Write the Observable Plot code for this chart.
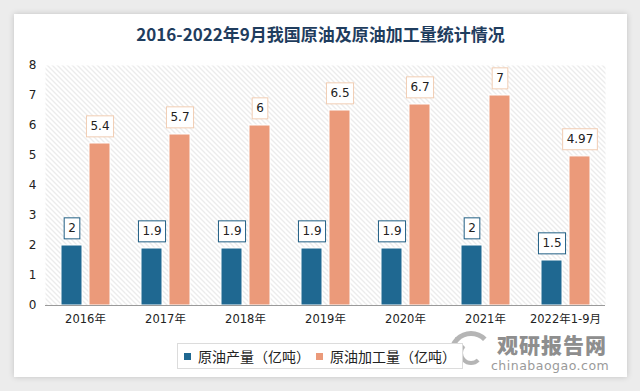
<!DOCTYPE html>
<html><head><meta charset="utf-8">
<script src="https://cdn.jsdelivr.net/npm/d3@7"></script>
<script src="https://cdn.jsdelivr.net/npm/@observablehq/plot@0.6"></script>
<style>
body{margin:0;width:640px;height:391px;background:#ececec;position:relative;overflow:hidden;font-family:"DejaVu Sans","Noto Sans CJK SC",sans-serif;}
#card{position:absolute;left:14px;top:14px;width:613px;height:363px;background:#fff;box-shadow:0 0 6px rgba(0,0,0,0.18);}
#title{position:absolute;left:14px;width:613px;top:21px;text-align:center;font-family:"Noto Sans CJK SC";font-size:17px;font-weight:600;color:#1f3d5e;white-space:nowrap;}
#chart{position:absolute;left:0;top:0;z-index:2;}
#legend{position:absolute;left:177px;top:343px;width:284px;height:24px;border:1px solid #dcdcdc;background:#fff;z-index:3;font-family:"Noto Sans CJK SC";font-size:14px;color:#222;display:flex;align-items:center;white-space:nowrap;}
#legend .sw{display:inline-block;width:7px;height:7px;margin:0 7px 0 6px;}
#wm1{position:absolute;left:497px;top:334px;line-height:1;font-family:"Noto Sans CJK SC";font-weight:900;font-size:21px;color:#8e8e8e;z-index:1;letter-spacing:1px;}
#wm2{position:absolute;left:491px;top:360px;line-height:1;font-family:"DejaVu Sans";font-size:12.5px;color:#9a9a9a;z-index:1;letter-spacing:0.5px;}
.arc{position:absolute;border-radius:50%;border:5px solid transparent;z-index:1;}
</style>
</head><body>
<div id="card"></div>
<div id="title">2016-2022年9月我国原油及原油加工量统计情况</div>
<div class="arc" style="left:449px;top:331px;width:34px;height:34px;border-top-color:#b5b5b5;border-left-color:#b5b5b5;"></div>
<div class="arc" style="left:459px;top:341px;width:16px;height:16px;border-width:4px;border-bottom-color:#b5b5b5;border-left-color:#b5b5b5;"></div>
<div id="wm1">观研报告网</div>
<div id="wm2">chinabaogao.com</div>
<div id="chart"></div>
<div id="legend"></div>
<script>
const years = ["2016年","2017年","2018年","2019年","2020年","2021年","2022年1-9月"];
const crudeOutput = [2, 1.9, 1.9, 1.9, 1.9, 2, 1.5];
const crudeProcessing = [5.4, 5.7, 6, 6.5, 6.7, 7, 4.97];
const seriesNames = ["原油产量（亿吨）", "原油加工量（亿吨）"];
const seriesColors = ["#1f6891", "#eb9a7a"];
const labelBorders = ["#215f84", "#f1cdb3"];
const labelFills = ["#222222", "#212121"];
const yTicks = [0,1,2,3,4,5,6,7,8];

const rows = [];
years.forEach((y, i) => {
  rows.push({year: y, series: seriesNames[0], value: crudeOutput[i]});
  rows.push({year: y, series: seriesNames[1], value: crudeProcessing[i]});
});
const s0 = rows.filter(d => d.series === seriesNames[0]);
const s1 = rows.filter(d => d.series === seriesNames[1]);

const plot = Plot.plot({
  width: 640, height: 391,
  marginTop: 65, marginBottom: 86, marginLeft: 43, marginRight: 33,
  style: {fontSize: "12px", fontFamily: '"DejaVu Sans","Noto Sans CJK SC",sans-serif', color: "#222", background: "transparent"},
  fx: {domain: years, padding: 0, label: null, tickSize: 0, tickPadding: 9, axis: "bottom"},
  x: {domain: seriesNames, paddingInner: 0.26, paddingOuter: 0.52, axis: null},
  y: {domain: [0, 8], ticks: yTicks, tickSize: 0, tickPadding: 9, label: null, tickFormat: d => String(d)},
  color: {domain: seriesNames, range: seriesColors},
  marks: [
    Plot.frame({fill: "url(#hatch)", stroke: "none"}),
    Plot.barY(rows, {fx: "year", x: "series", y: "value", fill: "series", stroke: "#fff", strokeWidth: 1}),
    Plot.ruleY([0], {stroke: "#9a9a9a"}),
    Plot.text(s0, {fx: "year", x: "series", y: "value", text: d => String(d.value), dy: -17, fill: labelFills[0], fontSize: 12}),
    Plot.text(s1, {fx: "year", x: "series", y: "value", text: d => String(d.value), dy: -17, fill: labelFills[1], fontSize: 12})
  ]
});
document.getElementById("chart").appendChild(plot);

const ns = "http://www.w3.org/2000/svg";
const defs = document.createElementNS(ns, "defs");
defs.innerHTML = '<pattern id="hatch" patternUnits="userSpaceOnUse" width="5" height="5">' +
  '<rect width="5" height="5" fill="#fff"/>' +
  '<path d="M-1,4 L1,6 M-1,-1 L6,6 M4,-1 L6,1" stroke="#d9d9d9" stroke-width="1"/></pattern>';
plot.insertBefore(defs, plot.firstChild);

plot.querySelectorAll("text").forEach(t => {
  if (years.includes(t.textContent)) t.setAttribute("font-size", "11.5px");
});

const valueStrings = new Set(rows.map(d => String(d.value)));
Array.from(plot.querySelectorAll("text")).forEach(t => {
  if (!valueStrings.has(t.textContent)) return;
  if (t.closest('[aria-label*="axis"]')) return;
  let el = t, fill = null;
  while (el && el !== plot) {
    const f = el.getAttribute && el.getAttribute("fill");
    if (f) { fill = f.toLowerCase(); break; }
    el = el.parentNode;
  }
  const idx = fill === labelFills[1] ? 1 : (fill === labelFills[0] ? 0 : -1);
  if (idx < 0) return;
  const b = t.getBBox();
  const r = document.createElementNS(ns, "rect");
  r.setAttribute("x", b.x - 4);
  r.setAttribute("y", b.y - 3.5);
  r.setAttribute("width", b.width + 8);
  r.setAttribute("height", b.height + 7);
  r.setAttribute("fill", "#fff");
  r.setAttribute("stroke", labelBorders[idx]);
  r.setAttribute("stroke-width", 1);
  if (t.getAttribute("transform")) r.setAttribute("transform", t.getAttribute("transform"));
  t.parentNode.insertBefore(r, t);
});

const leg = document.getElementById("legend");
seriesNames.forEach((n, i) => {
  const sw = document.createElement("span");
  sw.className = "sw";
  sw.style.background = seriesColors[i];
  const tx = document.createElement("span");
  tx.textContent = n;
  leg.appendChild(sw);
  leg.appendChild(tx);
});
</script>
</body></html>
